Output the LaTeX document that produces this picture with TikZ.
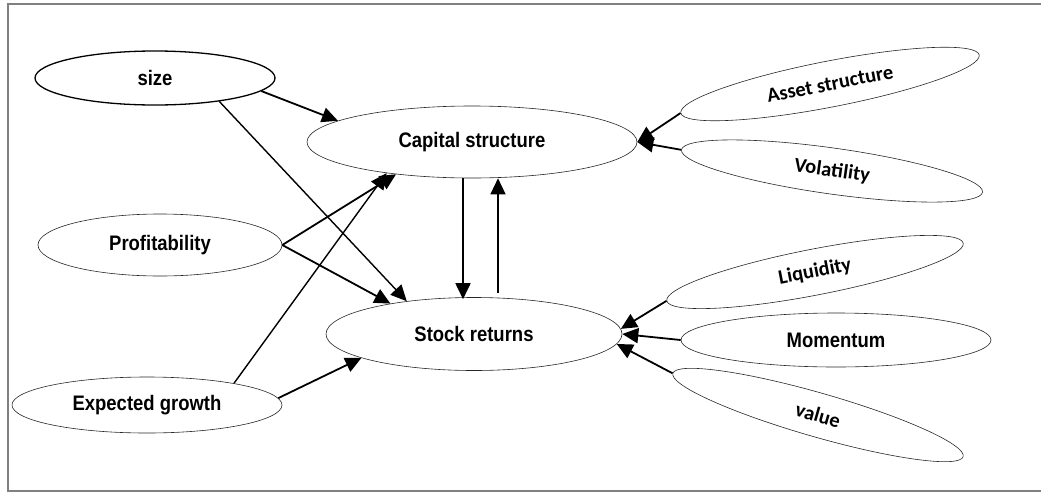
\documentclass[tikz,border=0pt]{standalone}
\usepackage{fontspec}
\usetikzlibrary{shapes.geometric,arrows.meta}
\newfontfamily\narrowfont[FakeStretch=0.88]{Liberation Sans}
\newfontfamily\calfont{Carlito}
\begin{document}
\begin{tikzpicture}[x=1pt,y=-1pt,
  var/.style={ellipse,draw=black!85,line width=0.6pt,inner sep=0pt,
    font=\narrowfont\bfseries\fontsize{21}{25}\selectfont},
  cvar/.style={var,font=\calfont\bfseries\fontsize{20.5}{24}\selectfont},
  link/.style={line width=1.8pt,-{Triangle[length=16pt,width=15pt]}},
  thinlink/.style={link,line width=1.4pt}]
\useasboundingbox (0,0) rectangle (1041,493);
% outer frame
\draw[gray,line width=1.5pt] (1045,4) -- (8,4) -- (8,491) -- (1045,491);

% explanatory variables on the left
\node[var,line width=1.3pt,draw=black,minimum width=240pt,minimum height=54pt] (size) at (155,78) {size};
\node[var,minimum width=244pt,minimum height=62pt] (prof) at (160,245) {Profitability};
\node[var,minimum width=270pt,minimum height=56pt] (exp) at (147,405) {Expected growth};

% central constructs
\node[var,minimum width=330pt,minimum height=72pt] (cap) at (472,142) {Capital structure};
\node[var,minimum width=296pt,minimum height=73pt] (stock) at (474,334) {Stock returns};

% determinants on the right
\node[cvar,rotate=11,minimum width=304pt,minimum height=46pt] (asset) at (830,84) {Asset structure};
\node[cvar,rotate=-8,minimum width=304pt,minimum height=46pt] (vol) at (832,171) {Volatility};
\node[cvar,rotate=11,minimum width=302pt,minimum height=46pt] (liq) at (815,272) {Liquidity};
\node[var,minimum width=310pt,minimum height=54pt] (mom) at (836,340) {Momentum};
\node[cvar,rotate=-16,minimum width=302pt,minimum height=44pt] (val) at (818,415) {value};

% links into capital structure
\draw[link] (size.-7) -- (cap.171.5);
\draw[link] (prof.east) -- (cap.203);
\draw[thinlink] (exp.14) -- (cap.200);
\draw[link] (asset.west) -- (cap.east);
\draw[link] (vol.west) -- (cap.east);

% links into stock returns
\draw[thinlink] (size.-20) -- (stock.154);
\draw[link] (prof.east) -- (stock.160);
\draw[link] (exp.3) -- (stock.192.6);
\draw[link] (liq.west) -- (stock.2);
\draw[link] (mom.west) -- (stock.east);
\draw[link] (val.west) -- (stock.-4);

% two-way relation between the central constructs
\draw[link] ([xshift=-9pt]cap.south) -- ([xshift=-11pt,yshift=-2pt]stock.north);
\draw[thinlink,shorten <=4pt] ([xshift=24pt]stock.north) -- ([xshift=26pt]cap.south);
\end{tikzpicture}
\end{document}
